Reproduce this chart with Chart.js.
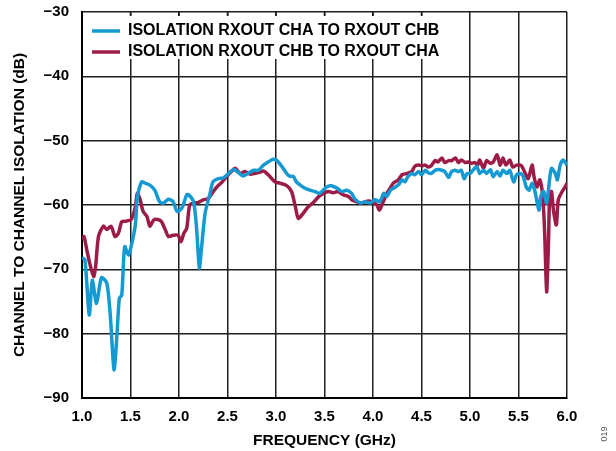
<!DOCTYPE html>
<html>
<head>
<meta charset="utf-8">
<script src="https://cdn.jsdelivr.net/npm/chart.js@4.4.1/dist/chart.umd.min.js"></script>
<style>
html,body{margin:0;padding:0;background:#fff;}
#wrap{width:616px;height:451px;position:relative;}
</style>
</head>
<body>
<div id="wrap"><canvas id="c" width="616" height="451"></canvas></div>
<script>
// ---- data ----
const seriesNames = ['ISOLATION RXOUT CHA TO RXOUT CHB', 'ISOLATION RXOUT CHB TO RXOUT CHA'];
const seriesColors = ['#1499d3', '#9c1c47'];

const freqAB = [1.00,1.03,1.075,1.106,1.15,1.20,1.255,1.29,1.33,1.357,1.385,1.41,1.44,1.48,1.51,1.55,1.57,1.615,1.65,1.70,1.75,1.80,1.84,1.89,1.94,1.98,2.03,2.08,2.10,2.15,2.18,2.21,2.23,2.27,2.32,2.35,2.405,2.457,2.51,2.56,2.61,2.66,2.71,2.77,2.82,2.87,2.92,2.97,3.01,3.06,3.11,3.14,3.18,3.21,3.25,3.30,3.35,3.40,3.45,3.52,3.57,3.63,3.68,3.73,3.78,3.81,3.87,3.92,3.97,4.02,4.07,4.11,4.14,4.18,4.21,4.26,4.30,4.33,4.36,4.40,4.43,4.47,4.50,4.54,4.57,4.60,4.64,4.67,4.71,4.74,4.78,4.81,4.85,4.88,4.91,4.94,4.97,5.00,5.03,5.07,5.10,5.14,5.17,5.21,5.24,5.28,5.31,5.34,5.38,5.41,5.45,5.48,5.52,5.55,5.58,5.61,5.64,5.67,5.71,5.73,5.76,5.79,5.82,5.84,5.88,5.90,5.93,5.96,6.00];
const isoAB = [-68.2,-68.5,-77.1,-71.7,-75.3,-71.3,-72.1,-76.8,-85.6,-81.0,-74.5,-74.0,-66.5,-67.8,-66.2,-63.1,-58.9,-56.4,-56.6,-56.9,-57.7,-59.5,-59.7,-59.1,-59.5,-61.0,-60.5,-58.4,-58.4,-59.5,-63.4,-69.8,-67.0,-61.2,-58.2,-56.4,-55.9,-55.8,-55.1,-54.5,-54.9,-55.5,-55.1,-54.6,-54.6,-53.8,-53.3,-52.9,-53.1,-54.0,-55.1,-55.5,-55.6,-56.4,-56.9,-57.4,-57.7,-57.9,-58.2,-57.2,-57.0,-57.4,-57.9,-57.7,-58.2,-59.0,-59.7,-59.5,-59.7,-59.2,-59.5,-58.2,-58.7,-57.7,-57.4,-56.9,-56.1,-56.4,-55.6,-55.1,-55.3,-54.8,-55.3,-54.6,-55.0,-55.1,-54.6,-54.5,-54.6,-54.8,-55.7,-54.8,-54.6,-54.8,-54.6,-55.9,-55.1,-55.1,-54.6,-54.0,-55.1,-54.6,-55.1,-54.5,-55.6,-54.8,-55.5,-54.6,-55.1,-54.6,-56.4,-55.3,-55.1,-55.6,-57.2,-57.7,-56.6,-57.9,-60.8,-58.7,-57.9,-59.7,-56.1,-54.3,-55.1,-56.1,-53.8,-53.0,-53.8];

const freqBA = [1.00,1.02,1.05,1.08,1.12,1.14,1.17,1.22,1.255,1.30,1.34,1.375,1.41,1.46,1.51,1.55,1.57,1.60,1.63,1.67,1.70,1.74,1.79,1.82,1.86,1.89,1.94,1.99,2.02,2.05,2.08,2.11,2.15,2.20,2.25,2.30,2.34,2.39,2.44,2.49,2.54,2.58,2.63,2.68,2.73,2.78,2.835,2.87,2.92,2.99,3.04,3.11,3.16,3.20,3.23,3.28,3.33,3.38,3.44,3.49,3.54,3.59,3.64,3.69,3.75,3.78,3.83,3.88,3.94,3.99,4.04,4.065,4.10,4.14,4.18,4.21,4.26,4.30,4.35,4.40,4.43,4.47,4.50,4.54,4.57,4.60,4.64,4.67,4.71,4.74,4.78,4.81,4.85,4.88,4.91,4.95,4.98,5.02,5.05,5.08,5.10,5.14,5.17,5.21,5.24,5.28,5.31,5.34,5.37,5.41,5.44,5.48,5.53,5.57,5.60,5.64,5.66,5.69,5.72,5.75,5.77,5.79,5.81,5.82,5.84,5.86,5.89,5.91,5.95,5.98,6.00];
const isoBA = [-65.4,-64.9,-67.0,-69.1,-71.1,-69.6,-64.9,-63.3,-63.8,-63.3,-64.9,-64.4,-62.6,-62.5,-62.2,-60.3,-58.2,-59.2,-61.0,-61.8,-63.3,-62.3,-62.3,-62.6,-63.9,-64.9,-64.7,-64.7,-65.7,-64.4,-63.6,-60.0,-59.7,-59.6,-59.2,-59.0,-58.2,-57.2,-56.5,-55.6,-54.8,-54.3,-55.1,-54.8,-55.2,-55.1,-54.9,-54.7,-55.3,-56.4,-56.6,-57.0,-57.9,-60.3,-62.1,-61.3,-60.3,-59.7,-58.7,-58.2,-57.9,-58.1,-57.9,-58.4,-58.7,-59.2,-59.5,-59.7,-59.4,-59.5,-60.0,-60.8,-59.7,-58.3,-57.3,-56.6,-56.1,-55.3,-55.1,-54.8,-54.0,-53.8,-53.9,-53.8,-54.1,-53.9,-53.1,-53.3,-52.7,-53.4,-53.1,-53.1,-52.7,-53.4,-53.0,-53.4,-53.3,-53.5,-53.4,-53.8,-53.0,-54.3,-53.1,-53.5,-53.3,-52.2,-53.8,-52.7,-53.8,-53.0,-54.1,-53.8,-53.9,-55.1,-55.9,-53.8,-55.6,-57.2,-56.1,-58.7,-64.4,-73.5,-65.4,-59.2,-57.9,-60.8,-63.1,-59.2,-57.9,-57.2,-56.6];

const xTickValues = [1.0,1.5,2.0,2.5,3.0,3.5,4.0,4.5,5.0,5.5,6.0];
const yTickValues = [-90,-80,-70,-60,-50,-40,-30];
const xTitle = 'FREQUENCY (GHz)';
const yTitle = 'CHANNEL TO CHANNEL ISOLATION (dB)';
const figureCode = '019';

// ---- styling ----
const FONT = '"Liberation Sans", Arial, Helvetica, sans-serif';
const GRID_COLOR = '#1e1e1e';
const GRID_W = 1.5;

function pairs(xs, ys){ return xs.map((x,i)=>({x:x, y:ys[i]})); }

const legendBox = {
  id: 'legendBox',
  beforeDraw(chart){
    const lg = chart.legend;
    if (!lg || lg._bgPatched) return;
    const orig = lg.draw.bind(lg);
    lg.draw = function(){
      const ctx = chart.ctx, a = chart.chartArea;
      const boxL = a.left + 2, boxT = a.top + 4, boxR = a.left + 372, boxB = a.top + 47;
      ctx.save();
      ctx.fillStyle = '#fff';
      ctx.fillRect(boxL, boxT, boxR - boxL, boxB - boxT);
      ctx.strokeStyle = GRID_COLOR; ctx.lineWidth = GRID_W;
      const xs = chart.scales.x;
      xTickValues.forEach(v => {
        const px = xs.getPixelForValue(v);
        if (px > boxL && px < boxR) {
          ctx.beginPath(); ctx.moveTo(px, a.top); ctx.lineTo(px, boxT); ctx.stroke();
        }
      });
      ctx.restore();
      ctx.save();
      ctx.translate(a.left - lg.left + 5, a.top - lg.top + 6);
      orig();
      ctx.restore();
    };
    lg._bgPatched = true;
  },
  afterDraw(chart){
    const ctx = chart.ctx;
    ctx.save();
    ctx.translate(605, 434);
    ctx.rotate(-Math.PI/2);
    ctx.font = '9px ' + FONT;
    ctx.fillStyle = '#555';
    ctx.textAlign = 'center';
    ctx.textBaseline = 'middle';
    ctx.fillText(figureCode, 0, 0);
    ctx.restore();
  }
};

new Chart(document.getElementById('c'), {
  type: 'line',
  data: {
    datasets: [
      { label: seriesNames[0], data: pairs(freqAB, isoAB), borderColor: seriesColors[0], backgroundColor: seriesColors[0], borderWidth: 3.5, pointRadius: 0, tension: 0.25, fill: false },
      { label: seriesNames[1], data: pairs(freqBA, isoBA), borderColor: seriesColors[1], backgroundColor: seriesColors[1], borderWidth: 3.5, pointRadius: 0, tension: 0.25, fill: false }
    ]
  },
  options: {
    responsive: false,
    animation: false,
    layout: { padding: { top: 12, right: 49, left: 0, bottom: 0 } },
    plugins: {
      tooltip: { enabled: false },
      legend: {
        position: 'chartArea',
        align: 'start',
        labels: {
          usePointStyle: true,
          pointStyle: 'line',
          pointStyleWidth: 28,
          boxHeight: 16,
          padding: 5,
          color: '#000',
          font: { family: FONT, size: 16, weight: 'bold' }
        }
      }
    },
    scales: {
      x: {
        type: 'linear',
        min: 1, max: 6,
        afterBuildTicks(s){ s.ticks = xTickValues.map(v => ({value: v})); },
        afterFit(s){ s.height = 53; s.paddingLeft = 0; s.paddingRight = 0; },
        grid: { color: GRID_COLOR, lineWidth: GRID_W, drawTicks: false },
        border: { display: true, color: '#000', width: 2 },
        ticks: { color: '#000', padding: 10, maxRotation: 0, font: { family: FONT, size: 15, weight: 'bold' },
                 callback: v => Number(v).toFixed(1) },
        title: { display: true, text: xTitle, color: '#000', padding: { top: 0, bottom: 1 },
                 font: { family: FONT, size: 15.5, weight: 'bold' } }
      },
      y: {
        type: 'linear',
        min: -90, max: -30,
        afterBuildTicks(s){ s.ticks = yTickValues.map(v => ({value: v})); },
        afterFit(s){ s.width = 82; s.paddingTop = 0; s.paddingBottom = 0; },
        grid: { color: GRID_COLOR, lineWidth: GRID_W, drawTicks: false },
        border: { display: true, color: '#000', width: 2 },
        ticks: { color: '#000', padding: 13, font: { family: FONT, size: 15, weight: 'bold' },
                 callback: v => (v < 0 ? '\u2212' + Math.abs(v) : String(v)) },
        title: { display: true, text: yTitle, color: '#000', padding: { top: 10, bottom: 0 },
                 font: { family: FONT, size: 15.5, weight: 'bold' } }
      }
    }
  },
  plugins: [legendBox]
});
</script>
</body>
</html>
